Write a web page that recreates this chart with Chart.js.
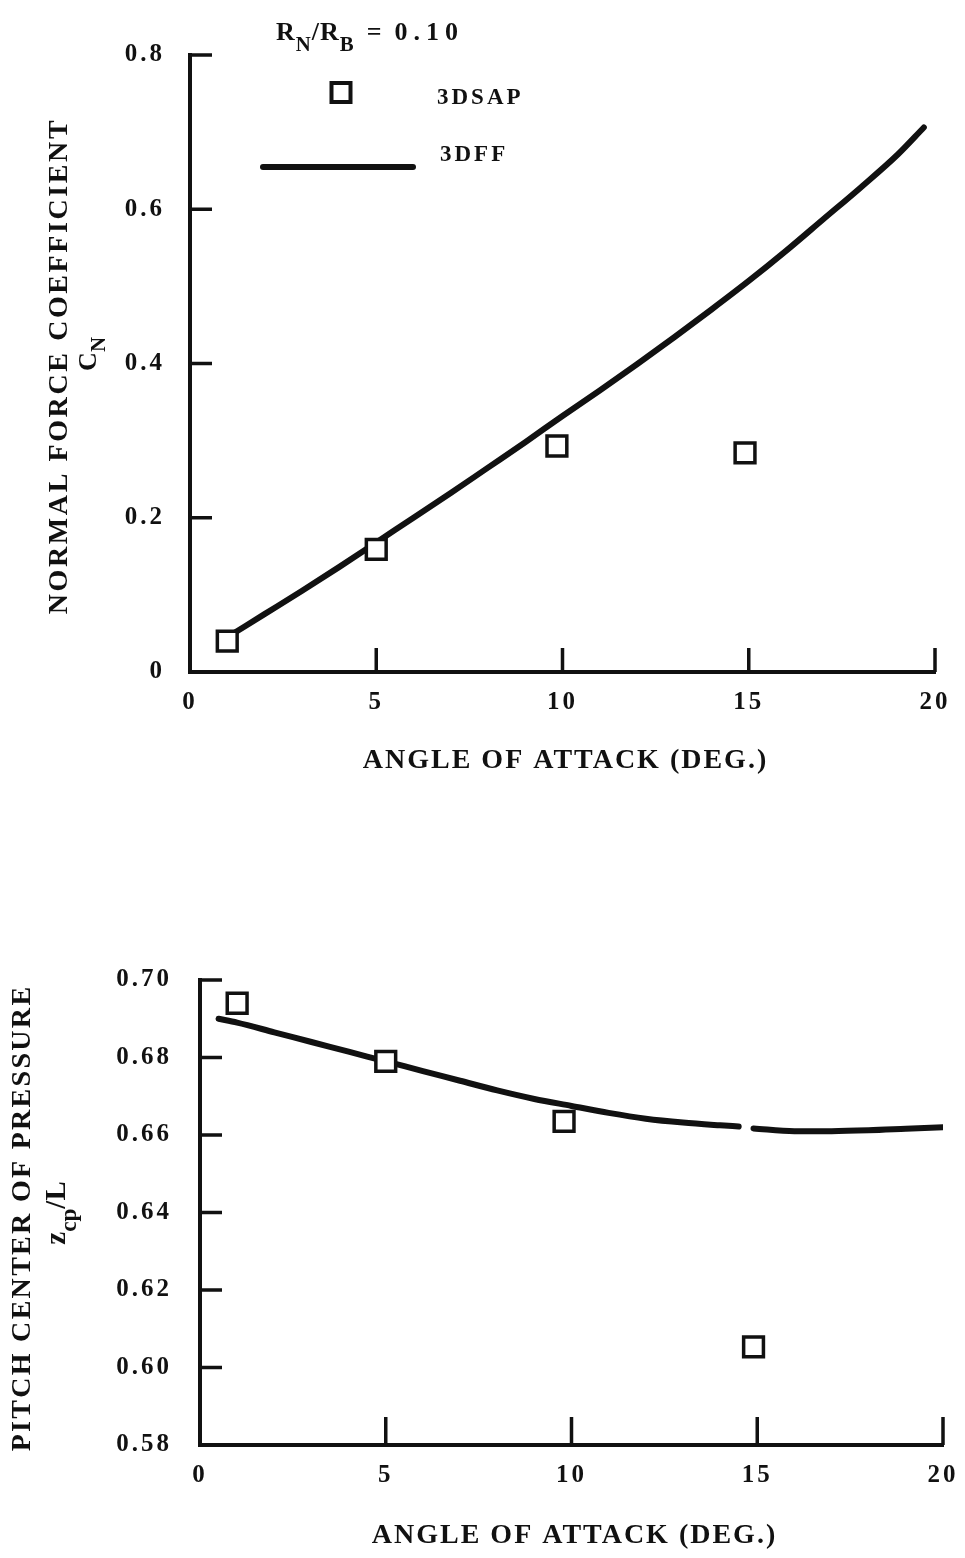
<!DOCTYPE html>
<html>
<head>
<meta charset="utf-8">
<script src="https://cdn.jsdelivr.net/npm/chart.js@4.4.0/dist/chart.umd.min.js"></script>
<style>
  body { margin: 0; background: #fff; width: 965px; height: 1558px; position: relative; overflow: hidden; }
  .box { position: absolute; left: 0; width: 965px; }
  #topBox { top: 0; height: 800px; }
  #bottomBox { top: 940px; height: 618px; }
</style>
</head>
<body>
<div class="box" id="topBox"><canvas id="normalChart"></canvas></div>
<div class="box" id="bottomBox"><canvas id="pitchChart"></canvas></div>
<script>
// angle of attack, deg
const angleTicks = [0, 5, 10, 15, 20];

// 3DSAP results (squares)
const sapNormalAngles = [1, 5, 9.85, 14.9];
const sapNormal = [0.04, 0.159, 0.293, 0.284];
const sapPitchAngles = [1, 5, 9.8, 14.9];
const sapPitch = [0.694, 0.679, 0.6635, 0.6053];

// 3DFF results (solid curve)
const ffNormalAngles = [1, 2, 3, 4, 5, 6, 7, 8, 9, 10, 11, 12, 13, 14, 15, 16, 17, 18, 19, 19.7];
const ffNormal = [0.045, 0.075, 0.105, 0.136, 0.168, 0.2, 0.232, 0.265, 0.298, 0.332, 0.365, 0.399, 0.434, 0.47, 0.507, 0.546, 0.587, 0.628, 0.671, 0.706];
const ffPitchAngles = [0.5, 1, 2, 3, 4, 5, 6, 7, 8, 9, 10, 11, 12, 13, 14, 14.5, 14.7, 14.9, 16, 17, 18, 19, 20];
const ffPitch = [0.690, 0.689, 0.6865, 0.684, 0.6815, 0.679, 0.6765, 0.674, 0.6715, 0.6693, 0.6675, 0.6657, 0.6642, 0.6632, 0.6625, 0.6622, null, 0.6617, 0.661, 0.661, 0.6612, 0.6616, 0.662];

const ink = "#111";
const serif = '"Liberation Serif", "DejaVu Serif", serif';

function toPoints(xs, ys) {
  return xs.map((x, i) => ({ x: x, y: ys[i] }));
}

// draws a run of text pieces, subscripts dropped below the baseline
function drawParts(ctx, x, y, parts, size, spacing) {
  let cx = x;
  parts.forEach((p) => {
    const fs = p.sub ? size * 0.8 : (p.size || size);
    ctx.font = "bold " + fs + "px " + serif;
    ctx.letterSpacing = (p.spacing !== undefined ? p.spacing : spacing || 0) + "px";
    ctx.fillText(p.t, cx, p.sub ? y + size * 0.42 : y);
    cx += ctx.measureText(p.t).width + (p.gap || 0);
  });
  return cx - x;
}

function measureParts(ctx, parts, size, spacing) {
  let w = 0;
  parts.forEach((p) => {
    const fs = p.sub ? size * 0.8 : (p.size || size);
    ctx.font = "bold " + fs + "px " + serif;
    ctx.letterSpacing = (p.spacing !== undefined ? p.spacing : spacing || 0) + "px";
    w += ctx.measureText(p.t).width + (p.gap || 0);
  });
  return w;
}

// vertical text centred on (x, y), read bottom to top
function drawVertical(ctx, x, y, parts, size, spacing) {
  ctx.save();
  ctx.translate(x, y);
  ctx.rotate(-Math.PI / 2);
  ctx.textBaseline = "middle";
  ctx.textAlign = "left";
  const w = measureParts(ctx, parts, size, spacing);
  drawParts(ctx, -w / 2, 0, parts, size, spacing);
  ctx.restore();
}

// wide typewriter-like spacing for the tick numbers
const spacedLabels = {
  id: "spacedLabels",
  beforeDraw(chart) {
    chart.ctx.letterSpacing = "3px";
  },
};

// tick marks pointing into the plot, no gridlines
const inwardTicks = {
  id: "inwardTicks",
  afterDraw(chart, args, opts) {
    const { ctx, chartArea, scales } = chart;
    ctx.save();
    ctx.strokeStyle = ink;
    ctx.lineWidth = 3.5;
    ctx.beginPath();
    scales.x.ticks.forEach((t) => {
      if (t.value === scales.x.min) return;
      const px = scales.x.getPixelForValue(t.value);
      ctx.moveTo(px, chartArea.bottom);
      ctx.lineTo(px, chartArea.bottom - opts.xLen);
    });
    scales.y.ticks.forEach((t) => {
      if (t.value <= scales.y.min + 1e-9) return;
      const py = scales.y.getPixelForValue(t.value);
      ctx.moveTo(chartArea.left, py);
      ctx.lineTo(chartArea.left + opts.yLen, py);
    });
    ctx.stroke();
    ctx.restore();
  },
};

// axis titles and the key
const annotations = {
  id: "annotations",
  afterDraw(chart, args, opts) {
    const { ctx, chartArea } = chart;
    ctx.save();
    ctx.fillStyle = ink;
    ctx.textBaseline = "alphabetic";
    ctx.textAlign = "center";
    ctx.font = "bold 28px " + serif;
    ctx.letterSpacing = "2px";
    ctx.fillText("ANGLE OF ATTACK (DEG.)", (chartArea.left + chartArea.right) / 2 + 3, chartArea.bottom + opts.xTitleDrop);
    ctx.textAlign = "left";
    drawVertical(ctx, opts.yTitleX, opts.yTitleY, [{ t: opts.yTitle }], 28, opts.yTitleSpacing);
    drawVertical(ctx, opts.symX, opts.symY, opts.symbol, opts.symSize, 0);
    if (opts.key) opts.key(ctx, chart);
    ctx.restore();
  },
};

function drawKey(ctx) {
  ctx.fillStyle = ink;
  ctx.textAlign = "left";
  ctx.textBaseline = "alphabetic";
  drawParts(ctx, 276, 40, [
    { t: "R" }, { t: "N", sub: true }, { t: "/R" }, { t: "B", sub: true, gap: 12 },
    { t: "=", gap: 12 }, { t: "0.10", spacing: 6 },
  ], 26, 1);
  ctx.strokeStyle = ink;
  ctx.lineWidth = 4;
  ctx.strokeRect(331.5, 83, 19, 19);
  ctx.font = "bold 23px " + serif;
  ctx.letterSpacing = "3px";
  ctx.fillText("3DSAP", 437, 104);
  ctx.fillText("3DFF", 440, 161);
  ctx.lineWidth = 6;
  ctx.lineCap = "round";
  ctx.beginPath();
  ctx.moveTo(263, 167);
  ctx.lineTo(413, 167);
  ctx.stroke();
}

function axisScales(yMin, yMax, yStep, yFormat, leftWidth, xHeight, yPad) {
  const tickFont = { family: serif, size: 25, weight: "bold" };
  return {
    x: {
      type: "linear",
      min: 0,
      max: 20,
      afterBuildTicks: (scale) => { scale.ticks = angleTicks.map((v) => ({ value: v })); },
      afterFit: (scale) => { scale.height = xHeight; },
      grid: { display: false },
      border: { display: true, color: ink, width: 4 },
      ticks: { color: ink, font: tickFont, padding: 8, maxRotation: 0 },
    },
    y: {
      type: "linear",
      min: yMin,
      max: yMax,
      afterFit: (scale) => { scale.width = leftWidth; },
      grid: { display: false },
      border: { display: true, color: ink, width: 4 },
      ticks: { color: ink, font: tickFont, padding: yPad, stepSize: yStep, callback: yFormat },
    },
  };
}

function seriesSets(sapX, sapY, ffX, ffY) {
  return [
    {
      label: "3DSAP",
      data: toPoints(sapX, sapY),
      pointStyle: "rect",
      pointRadius: 14,
      pointBorderWidth: 3.5,
      pointBorderColor: ink,
      pointBackgroundColor: "#fff",
      showLine: false,
      order: 0,
    },
    {
      label: "3DFF",
      data: toPoints(ffX, ffY),
      showLine: true,
      spanGaps: false,
      borderColor: ink,
      borderWidth: 6,
      borderCapStyle: "round",
      cubicInterpolationMode: "monotone",
      pointRadius: 0,
      order: 1,
    },
  ];
}

function makeChart(id, datasets, scales, padding, pluginOpts) {
  return new Chart(document.getElementById(id), {
    type: "scatter",
    data: { datasets: datasets },
    options: {
      responsive: true,
      maintainAspectRatio: false,
      animation: false,
      layout: { padding: padding },
      scales: scales,
      plugins: {
        legend: { display: false },
        tooltip: { enabled: false },
        inwardTicks: pluginOpts.ticks,
        annotations: pluginOpts.notes,
      },
    },
    plugins: [spacedLabels, inwardTicks, annotations],
  });
}

makeChart(
  "normalChart",
  seriesSets(sapNormalAngles, sapNormal, ffNormalAngles, ffNormal),
  axisScales(0, 0.8, 0.2, (v) => (v === 0 ? "0" : v.toFixed(1)), 190, 128, 17),
  { top: 55, right: 30, left: 0, bottom: 0 },
  {
    ticks: { xLen: 24, yLen: 22 },
    notes: {
      xTitleDrop: 96,
      yTitleX: 60, yTitleY: 366, yTitleSpacing: 2.6,
      yTitle: "NORMAL FORCE COEFFICIENT",
      symX: 89, symY: 354, symSize: 26,
      symbol: [{ t: "C" }, { t: "N", sub: true }],
      key: drawKey,
    },
  }
);

makeChart(
  "pitchChart",
  seriesSets(sapPitchAngles, sapPitch, ffPitchAngles, ffPitch),
  axisScales(0.58, 0.70, 0.02, (v) => v.toFixed(2), 200, 113, 20),
  { top: 40, right: 22, left: 0, bottom: 0 },
  {
    ticks: { xLen: 28, yLen: 22 },
    notes: {
      xTitleDrop: 98,
      yTitleX: 23, yTitleY: 278, yTitleSpacing: 2.3,
      yTitle: "PITCH CENTER OF PRESSURE",
      symX: 58, symY: 273, symSize: 29,
      symbol: [{ t: "z" }, { t: "cp", sub: true }, { t: "/L" }],
    },
  }
);
</script>
</body>
</html>
